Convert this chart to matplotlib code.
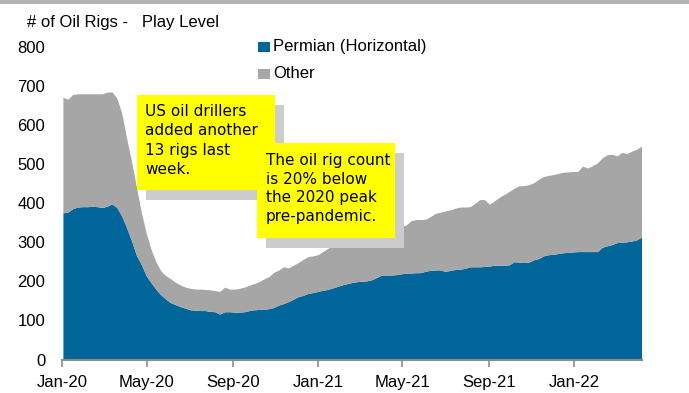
import matplotlib
matplotlib.use("Agg")
import matplotlib.pyplot as plt
import matplotlib.dates as mdates
from matplotlib.patches import Rectangle
import pandas as pd
import numpy as np

# Weekly rig counts, first Friday of 2020 through 1 Apr 2022
week_start = "2020-01-03"
n_weeks = 119

permian = [
    374, 376, 385, 389, 390, 390, 391, 390, 388, 391,
    397, 388, 366, 336, 303, 265, 242, 213, 195, 178,
    164, 153, 144, 139, 134, 130, 126, 125, 124, 124,
    122, 121, 115, 121, 121, 120, 120, 121, 124, 126,
    127, 127, 129, 132, 138, 142, 147, 153, 160, 163,
    168, 170, 173, 176, 178, 182, 186, 190, 193, 196,
    198, 199, 200, 203, 209, 215, 215, 215, 216, 218,
    220, 220, 221, 221, 225, 227, 228, 228, 224, 227,
    229, 230, 232, 236, 236, 236, 237, 238, 240, 240,
    240, 241, 249, 248, 247, 248, 254, 257, 264, 267,
    268, 270, 272, 273, 274, 275, 275, 275, 275, 275,
    286, 290, 293, 298, 299, 300, 302, 305, 312,
]

total = [
    670, 665, 677, 679, 679, 679, 679, 679, 679, 683,
    684, 668, 630, 565, 505, 440, 375, 322, 280, 248,
    225, 213, 205, 196, 189, 184, 181, 179, 179, 178,
    177, 175, 173, 184, 179, 179, 181, 184, 189, 193,
    198, 205, 211, 222, 228, 236, 233, 240, 247, 255,
    262, 264, 267, 275, 283, 290, 296, 300, 305, 310,
    315, 318, 322, 326, 330, 333, 335, 337, 339, 340,
    343, 354, 357, 357, 358, 365, 373, 376, 379, 382,
    386, 389, 389, 390, 398, 408, 408, 396, 405, 414,
    421, 429, 437, 443, 444, 446, 451, 460, 467, 470,
    472, 475, 478, 479, 480, 480, 494, 489, 495, 502,
    515, 523, 524, 520, 529, 526, 532, 537, 545,
]

series_labels = ["Permian (Horizontal)", "Other"]
series_colors = ["#006699", "#A6A6A6"]
y_ticks = [0, 100, 200, 300, 400, 500, 600, 700, 800]

dates = pd.date_range(week_start, periods=n_weeks, freq="W-FRI")
other = np.array(total) - np.array(permian)

W, H = 689, 393
fig = plt.figure(figsize=(W / 100, H / 100), dpi=100)
fig.patch.set_facecolor("white")

def fx(x):
    return x / W

def fy(y):
    return 1 - y / H

ax_left, ax_right, ax_top, ax_bottom = 62, 642, 47, 359.5
ax = fig.add_axes([fx(ax_left), fy(ax_bottom), (ax_right - ax_left) / W,
                   (ax_bottom - ax_top) / H])
ax.set_facecolor("none")

ax.stackplot(dates, permian, other, colors=series_colors,
             labels=series_labels, linewidth=0)

ax.set_xlim(pd.Timestamp("2020-01-01"), dates[-1])
ax.set_ylim(0, 800)
ax.set_yticks(y_ticks)

ax.xaxis.set_major_locator(mdates.MonthLocator(bymonth=[1, 5, 9]))
ax.xaxis.set_major_formatter(mdates.DateFormatter("%b-%y"))

tick_font = dict(family="Liberation Sans", size=12)
for lbl in ax.get_xticklabels() + ax.get_yticklabels():
    lbl.set_fontfamily("Liberation Sans")
    lbl.set_fontsize(12)

ax.tick_params(axis="y", length=0, pad=12)
ax.tick_params(axis="x", direction="out", length=5, width=1.2,
               color="#8C8C8C", pad=6)

for side in ["left", "right", "top"]:
    ax.spines[side].set_visible(False)
ax.spines["bottom"].set_color("#8C8C8C")
ax.spines["bottom"].set_linewidth(1.5)

# Title
fig.text(fx(27), fy(23), "# of Oil Rigs -   Play Level", ha="left",
         va="center", **tick_font)

# Legend
for i, (lab, col) in enumerate(zip(series_labels, series_colors)):
    cy = 47 + i * 27
    fig.add_artist(Rectangle((fx(258), fy(cy + 5)), 12 / W, 10 / H,
                             transform=fig.transFigure, facecolor=col,
                             edgecolor="none"))
    fig.text(fx(273), fy(cy), lab, ha="left", va="center", **tick_font)

# Call-out boxes with drop shadows
def callout(x0, y0, x1, y1, text_x, first_line_y, lines):
    fig.add_artist(Rectangle((fx(x0 + 9), fy(y1 + 10)), (x1 - x0) / W,
                             (y1 - y0) / H, transform=fig.transFigure,
                             facecolor="#CCCCCC", edgecolor="none"))
    fig.add_artist(Rectangle((fx(x0), fy(y1)), (x1 - x0) / W,
                             (y1 - y0) / H, transform=fig.transFigure,
                             facecolor="#FFFF00", edgecolor="none"))
    for k, line in enumerate(lines):
        fig.text(fx(text_x), fy(first_line_y + k * 19), line, ha="left",
                 va="center", family="DejaVu Sans", size=11,
                 color="black")

callout(137, 95, 275, 190, 145, 112,
        ["US oil drillers", "added another", "13 rigs last", "week."])
callout(257, 143, 395, 238, 266, 160,
        ["The oil rig count", "is 20% below", "the 2020 peak",
         "pre-pandemic."])

# Header band
fig.add_artist(Rectangle((0, fy(3.5)), 1, 3.5 / H, transform=fig.transFigure,
                         facecolor="#B3B3B3", edgecolor="none"))

fig.savefig("out.png", dpi=100)
